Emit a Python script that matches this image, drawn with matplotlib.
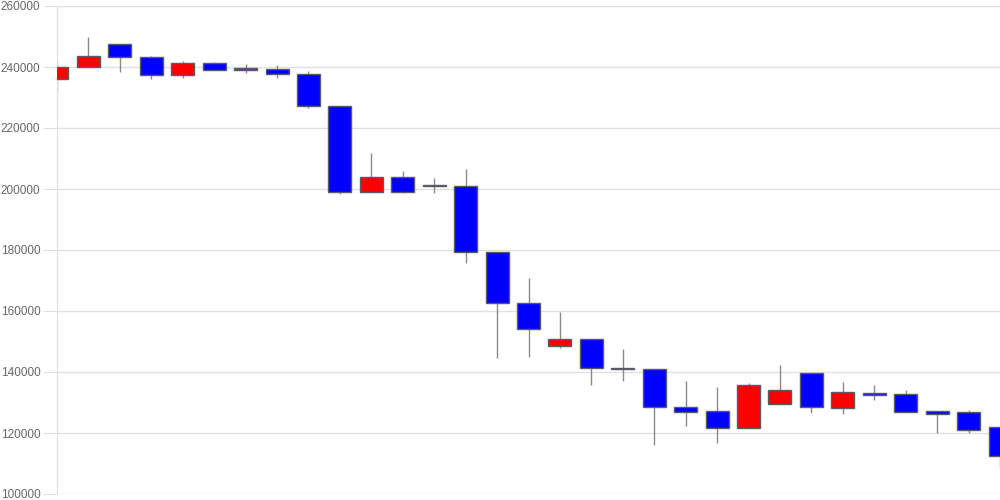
import numpy as np
import matplotlib.pyplot as plt

# daily OHLC values
opens = [236200, 240000, 247500, 243200, 237400, 241200, 239100, 239300, 237800, 227300,
         198900, 204000, 201100, 201100, 179200, 162500, 148400, 150800, 141100, 140900,
         128400, 127100, 121500, 129600, 139800, 128300, 133200, 132700, 127100, 126900,
         122000]
closes = [240100, 243500, 243200, 237400, 241200, 239100, 239800, 237700, 227100, 198900,
          204000, 199100, 201000, 179200, 162500, 154200, 150800, 141200, 141000, 128400,
          126900, 121600, 135800, 134000, 128400, 133400, 132400, 126900, 126200, 121000,
          112500]
highs = [242000, 250000, 247500, 243600, 242000, 241700, 240900, 240500, 238700, 227300,
         211800, 205900, 203500, 206500, 179200, 170700, 159700, 150800, 147400, 140900,
         137000, 135100, 136500, 142300, 139800, 136700, 135700, 134000, 127100, 127500,
         122000]
lows = [231500, 240000, 238400, 236100, 236500, 239100, 238100, 236300, 226700, 198300,
        198900, 198800, 198800, 175800, 144500, 145000, 148000, 135700, 137200, 116200,
        122400, 116800, 121500, 129600, 126700, 126100, 130900, 126900, 120100, 120100,
        108700]

x = np.arange(len(opens))
o = np.array(opens)
c = np.array(closes)
up = c > o
colors = np.where(up, '#ff0000', '#0000ff')
bottoms = np.minimum(o, c)
heights = np.maximum(np.abs(c - o), 250)

plt.rcParams['font.family'] = ['Liberation Sans', 'DejaVu Sans']
fig = plt.figure(figsize=(10, 5), dpi=100)
ax = fig.add_axes([0.057, 0.012, 0.943, 0.976])

ax.vlines(x, lows, highs, color='#8a8a8a', linewidth=1.0, zorder=2)
ax.bar(x, heights, bottom=bottoms, width=0.73, color=colors,
       edgecolor='#5a5a6a', linewidth=1.0, zorder=3)

ax.set_xlim(0, len(opens) - 1)
ax.set_ylim(100000, 260000)
ax.set_yticks(np.arange(100000, 260001, 20000))
ax.set_yticklabels([str(v) for v in range(100000, 260001, 20000)])
ax.set_xticks([])
ax.grid(axis='y', color='#e0e0e0', linewidth=1.0, zorder=0)
ax.tick_params(axis='y', length=10, color='#e0e0e0', labelcolor='#666666',
               labelsize=8.5, pad=2)
for side in ['top', 'right', 'bottom']:
    ax.spines[side].set_visible(False)
ax.spines['left'].set_color('#e0e0e0')

fig.savefig('out.png', dpi=100)
